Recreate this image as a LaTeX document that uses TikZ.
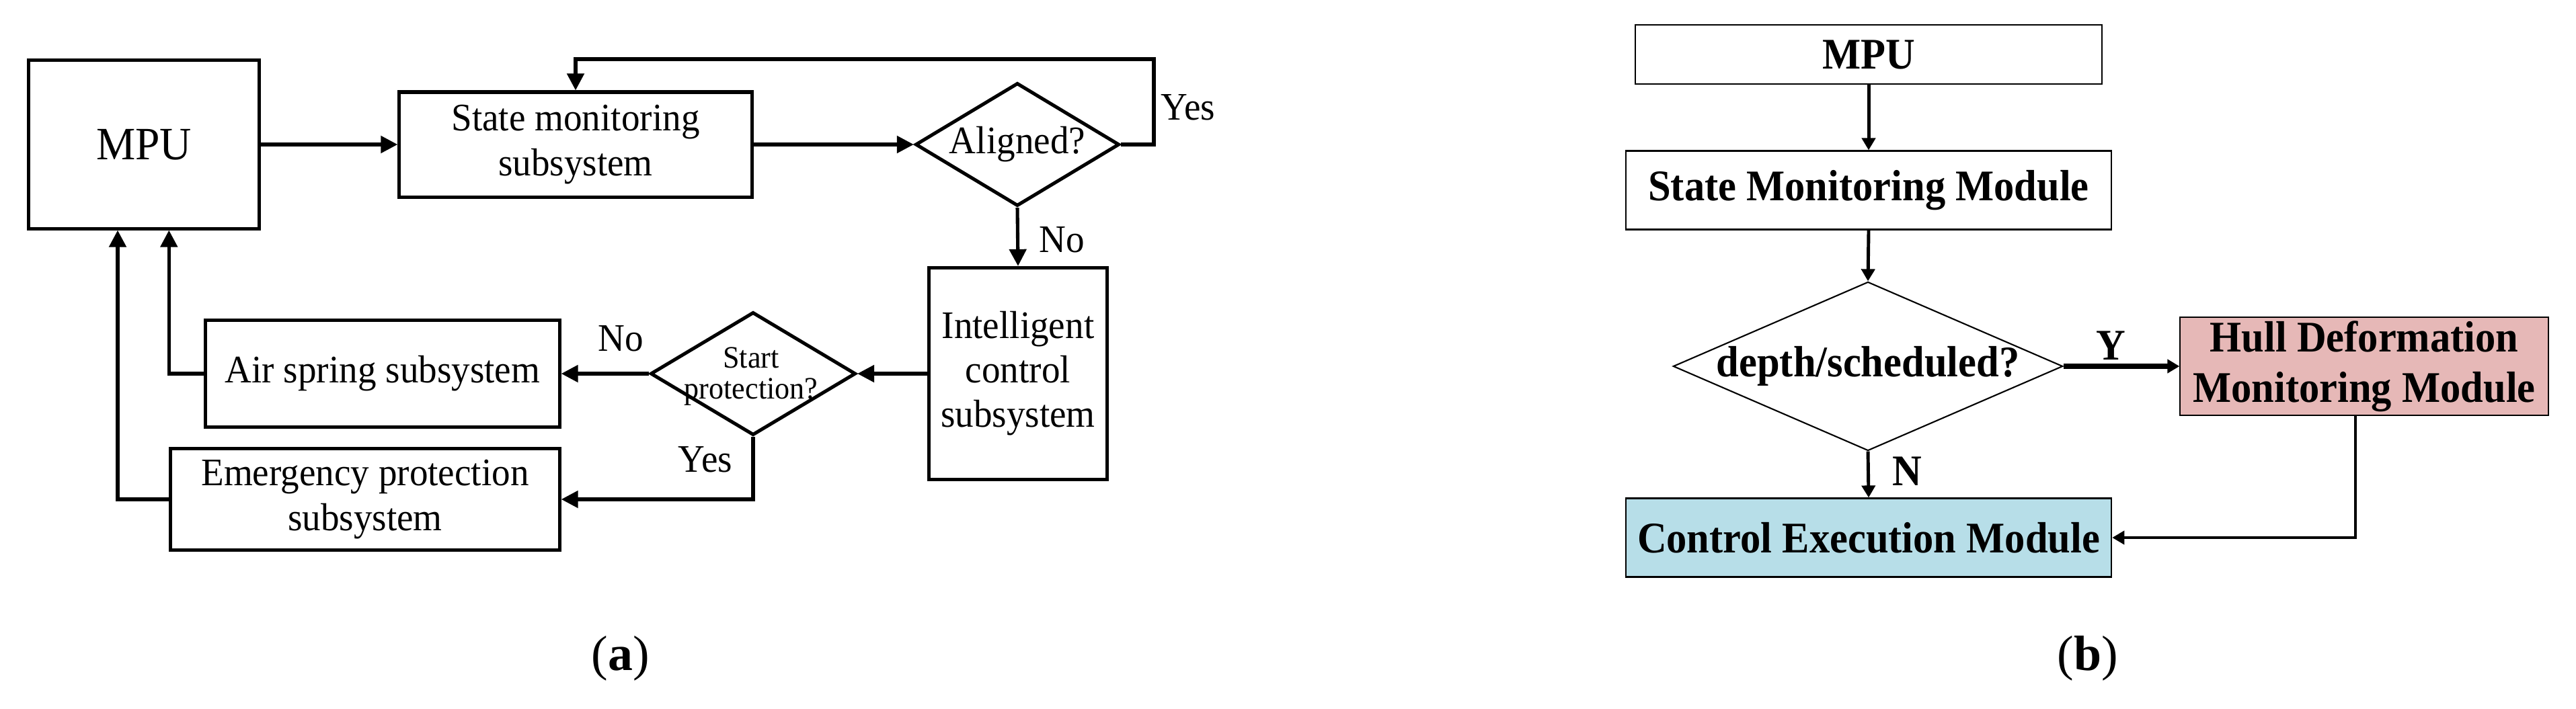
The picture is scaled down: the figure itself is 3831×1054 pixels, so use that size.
\documentclass[tikz,border=0pt]{standalone}
\usepackage{fontspec}
\setmainfont{Liberation Serif}
\newfontfamily\fonta[FakeStretch=0.95]{Liberation Serif}
\newfontfamily\fontb[FakeStretch=0.93]{Liberation Serif}
\usetikzlibrary{shapes.geometric,arrows.meta,calc}
\definecolor{pinkfill}{RGB}{230,184,183}
\definecolor{bluefill}{RGB}{183,222,232}
\begin{document}
\begin{tikzpicture}[x=0.01cm,y=-0.01cm,
  boxa/.style={draw, line width=1.45pt, inner sep=0pt, align=center, font=\fonta\fontsize{16.5}{18.8}\selectfont},
  diaa/.style={draw, diamond, line width=1.45pt, inner sep=0pt},
  arra/.style={line width=1.45pt, -{Triangle[length=0.25cm,width=0.25cm]}},
  lbla/.style={font=\fonta\fontsize{16.5}{18.8}\selectfont, inner sep=0pt},
  boxb/.style={draw, line width=0.6pt, inner sep=0pt, align=center, font=\fontb\bfseries\fontsize{18.5}{21.3}\selectfont},
  diab/.style={draw, diamond, line width=0.6pt, inner sep=0pt},
  arrb/.style={line width=1.4pt, -{Triangle[length=0.18cm,width=0.2cm]}},
  lblb/.style={font=\fontb\bfseries\fontsize{18.5}{21.3}\selectfont, inner sep=0pt},
  captxt/.style={font=\fontsize{21}{25}\selectfont, inner sep=0pt}
]
\useasboundingbox (0,0) rectangle (3831,1054);

% ---------------- panel (a) ----------------
\node[boxa, minimum width=3.42cm, minimum height=2.50cm, font=\fonta\fontsize{19.6}{22}\selectfont] (mpuA) at (214,215) {MPU};
\node[boxa, minimum width=5.24cm, minimum height=1.56cm] (smA) at (856,215) {State monitoring\\subsystem};
\node[diaa, minimum width=3.03cm, minimum height=1.83cm] (alA) at (1513,215) {};
\node[lbla] (alAt) at (alA.center) {Aligned?};
\node[boxa, minimum width=2.64cm, minimum height=3.15cm] (icA) at (1514,556) {Intelligent\\control\\subsystem};
\node[diaa, minimum width=3.05cm, minimum height=1.83cm] (spA) at (1120,556) {};
\node[lbla, align=center, font=\fonta\fontsize{13.2}{13.2}\selectfont] (spAt) at (1117,560) {Start\\protection?};
\node[boxa, minimum width=5.26cm, minimum height=1.59cm] (asA) at (569,556) {Air spring subsystem};
\node[boxa, minimum width=5.78cm, minimum height=1.51cm] (epA) at (543,743) {Emergency protection\\subsystem};

\coordinate (lt) at (1716,88);
\coordinate (upE) at ($(mpuA.south)+(-39,0)$);
\draw[arra] (mpuA.east) -- (smA.west);
\draw[arra] (smA.east) -- (alA.west);
\draw[arra] (alA.east) -| (lt) -| (smA.north);
\draw[arra] (alA.south) -- (icA.north);
\draw[arra] (icA.west) -- (spA.east);
\draw[arra] (spA.west) -- (asA.east);
\draw[arra] (spA.south) |- (epA.east);
\draw[arra] (asA.west) -| (epA.west |- mpuA.south);
\draw[arra] (epA.west) -| (upE);

\node[lbla] (yesA1) at (1767,160) {Yes};
\node[lbla] (noA1) at (1579,357) {No};
\node[lbla] (noA2) at (923,504) {No};
\node[lbla] (yesA2) at (1049,684) {Yes};

% ---------------- panel (b) ----------------
\node[boxb, minimum width=6.94cm, minimum height=0.88cm] (mpuB) at (2779,81) {MPU};
\node[boxb, minimum width=7.22cm, minimum height=1.17cm] (smB) at (2779,283) {State Monitoring Module};
\node[diab, minimum width=5.79cm, minimum height=2.51cm] (dB) at (2778,545) {};
\node[lblb] (dBt) at (dB.center) {depth/scheduled?};
\node[boxb, fill=pinkfill, minimum width=5.47cm, minimum height=1.46cm] (hB) at (3516,545) {Hull Deformation\\Monitoring Module};
\node[boxb, fill=bluefill, minimum width=7.22cm, minimum height=1.17cm] (ceB) at (2779,800) {Control Execution Module};

\coordinate (hBs) at ($(hB.south)+(-13,0)$);
\draw[arrb] (mpuB.south) -- (smB.north);
\draw[arrb] (smB.south) -- (dB.north);
\draw[arrb, line width=2pt] (dB.east) -- (hB.west);
\draw[arrb, line width=1.15pt] (hBs) |- (ceB.east);
\draw[arrb] (dB.south) -- (ceB.north);

\node[lblb] (yB) at (3139,514) {Y};
\node[lblb] (nB) at (2836,701) {N};

% ---------------- captions ----------------
\node[captxt] (capa) at (923,980) {(\textbf{a})};
\node[captxt] (capb) at (3105,980) {(\textbf{b})};
\end{tikzpicture}
\end{document}
